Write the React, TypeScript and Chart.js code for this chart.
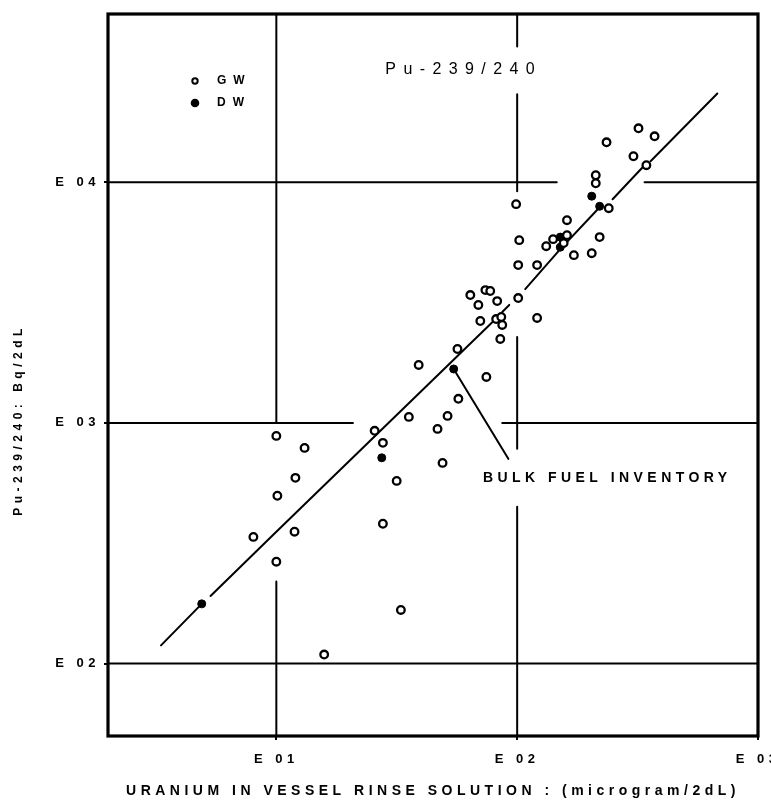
import React, { useEffect, useRef } from 'react';
import { Chart, registerables } from 'chart.js';

Chart.register(...registerables);

// ---- Data (x: microgram/2dL, y: Bq/2dL) ----
const gwX = [10, 13.1, 12.0, 10.1, 8.03, 11.9, 10, 15.8, 32.9, 25.6, 27.7, 31.6, 27.7, 35.5, 51.4, 46.7, 49.0, 57.0, 39.0, 56.5, 74.5, 63.9, 73.8, 77.3, 69.0, 82.6, 101, 70.3, 81.8, 85.9, 86.7, 85.1, 121, 101, 121, 102, 99, 161, 141, 161, 156, 132, 172, 204, 220, 212, 212, 240, 235, 319, 372, 304, 344];
const gwY = [883, 787, 591, 498, 336, 353, 265, 109, 167, 927, 826, 574, 381, 1059, 1069, 944, 682, 1259, 1741, 2028, 1552, 3398, 3562, 3532, 3090, 3206, 3302, 2651, 2701, 2754, 2552, 2232, 2729, 4525, 4525, 5745, 8106, 6953, 5799, 6026, 5585, 5422, 4977, 5070, 5914, 10690, 9900, 7798, 14650, 16750, 15520, 12820, 11770];

const dwX = [4.9, 27.4, 54.5, 151, 151, 204, 220];
const dwY = [177, 716, 1675, 5914, 5370, 8750, 7943];

// fitted line (null = break in the drawn line)
const fitX = [3.32, 4.9, null, 5.33, 10, 81.8, null, 86.7, 92.7, null, 108, 151, 220, null, 249, 332, null, 358, 678];
const fitY = [119, 177, null, 191, 353, 2716, null, 2891, 3091, null, 3597, 5272, 7874, null, 8497, 11540, null, 12230, 23370];

// leader line to the "bulk fuel inventory" point
const leaderX = [54.5, 91.9];
const leaderY = [1675, 709];

// broken grid lines of the original drawing
const vGrid10X = [10, 10, null, 10, 10];
const vGrid10Y = [50000, 1000, null, 219, 50];
const vGrid100X = [100, 100, null, 100, 100, null, 100, 100, null, 100, 100];
const vGrid100Y = [50000, 36600, null, 23200, 9180, null, 2275, 780, null, 448, 50];
const hGrid100X = [2, 1000];
const hGrid100Y = [100, 100];
const hGrid1000X = [2, 20.8, null, 86.7, 1000];
const hGrid1000Y = [1000, 1000, null, 1000, 1000];
const hGrid10000X = [2, 146, null, 338, 1000];
const hGrid10000Y = [10000, 10000, null, 10000, 10000];

const xTickValues = [10, 100, 1000];
const xTickLabels = ['E 01', 'E 02', 'E 03'];
const yTickValues = [100, 1000, 10000];
const yTickLabels = ['E 02', 'E 03', 'E 04'];

const seriesNames = ['GW', 'DW'];
const chartTitle = 'Pu-239/240';
const annotationText = 'BULK FUEL INVENTORY';
const xTitle = 'URANIUM IN VESSEL RINSE SOLUTION : (microgram/2dL)';
const yTitle = 'Pu-239/240: Bq/2dL';

const FAMILY = '"Liberation Sans", Arial, sans-serif';

const pts = (xs: (number | null)[], ys: (number | null)[]) =>
  xs.map((v, i) => (v === null || ys[i] === null ? { x: NaN, y: NaN } : { x: v as number, y: ys[i] as number }));

const lineDs = (xs: (number | null)[], ys: (number | null)[], width: number, order: number) => ({
  data: pts(xs, ys),
  showLine: true,
  spanGaps: false,
  pointRadius: 0,
  borderColor: '#000',
  backgroundColor: '#000',
  borderWidth: width,
  borderCapStyle: 'round',
  order,
});

const decorPlugin = {
  id: 'decor',
  beforeDraw(chart: any) {
    chart.ctx.letterSpacing = '4.5px';
  },
  afterDraw(chart: any) {
    const { ctx, chartArea: a, scales } = chart;
    const xs = scales.x;
    const ys = scales.y;
    ctx.save();
    // frame
    ctx.strokeStyle = '#000';
    ctx.lineWidth = 3.2;
    ctx.strokeRect(a.left, a.top, a.right - a.left, a.bottom - a.top);

    ctx.fillStyle = '#000';
    ctx.textBaseline = 'middle';

    // chart title inside plot
    ctx.font = `16px ${FAMILY}`;
    ctx.letterSpacing = '7.4px';
    ctx.textAlign = 'center';
    ctx.fillText(chartTitle, xs.getPixelForValue(57.9) + 3.7, ys.getPixelForValue(29500));

    // annotation
    ctx.font = `bold 14px ${FAMILY}`;
    ctx.letterSpacing = '4.45px';
    ctx.textAlign = 'left';
    ctx.fillText(annotationText, xs.getPixelForValue(72.1), ys.getPixelForValue(590));

    // legend
    const dsets = chart.data.datasets;
    ctx.font = `bold 12px ${FAMILY}`;
    ctx.letterSpacing = '7px';
    [0, 1].forEach((i) => {
      const cy = a.top + 67 + i * 22;
      const cx = a.left + 87;
      const d = dsets[i];
      ctx.beginPath();
      ctx.arc(cx, cy, i === 0 ? 2.7 : 3.3, 0, Math.PI * 2);
      ctx.fillStyle = d.pointBackgroundColor;
      ctx.fill();
      ctx.lineWidth = 2;
      ctx.strokeStyle = '#000';
      ctx.stroke();
      ctx.fillStyle = '#000';
      ctx.fillText(seriesNames[i], a.left + 109, cy);
    });

    // y-axis title
    ctx.font = `bold 12px ${FAMILY}`;
    ctx.letterSpacing = '4.5px';
    ctx.textAlign = 'center';
    ctx.translate(19, a.top + 408);
    ctx.rotate(-Math.PI / 2);
    ctx.fillText(yTitle, 2, 0);
    ctx.restore();
  },
};

export default function App() {
  const ref = useRef<HTMLCanvasElement | null>(null);

  useEffect(() => {
    if (!ref.current) return;
    const tickFont = { family: FAMILY, size: 13, weight: 'bold' as const };
    const chart = new Chart(ref.current, {
      type: 'scatter',
      data: {
        datasets: [
          {
            label: seriesNames[0],
            data: pts(gwX, gwY),
            pointStyle: 'circle',
            pointRadius: 3.8,
            pointBorderWidth: 2.3,
            pointBackgroundColor: '#fff',
            pointBorderColor: '#000',
            backgroundColor: '#fff',
            borderColor: '#000',
            order: 0,
          } as any,
          {
            label: seriesNames[1],
            data: pts(dwX, dwY),
            pointStyle: 'circle',
            pointRadius: 4,
            pointBorderWidth: 1,
            pointBackgroundColor: '#000',
            pointBorderColor: '#000',
            backgroundColor: '#000',
            borderColor: '#000',
            order: 0,
          } as any,
          lineDs(fitX, fitY, 2, 1) as any,
          lineDs(leaderX, leaderY, 2, 1) as any,
          lineDs(vGrid10X, vGrid10Y, 2, 2) as any,
          lineDs(vGrid100X, vGrid100Y, 2, 2) as any,
          lineDs(hGrid100X, hGrid100Y, 2, 2) as any,
          lineDs(hGrid1000X, hGrid1000Y, 2, 2) as any,
          lineDs(hGrid10000X, hGrid10000Y, 2, 2) as any,
        ],
      },
      options: {
        animation: false,
        responsive: true,
        maintainAspectRatio: false,
        events: [],
        layout: { padding: { top: 14, right: 13, left: 0, bottom: 0 } },
        plugins: {
          legend: { display: false },
          tooltip: { enabled: false },
          title: { display: false },
        },
        scales: {
          x: {
            type: 'logarithmic',
            min: 2,
            max: 1000,
            afterBuildTicks: (s: any) => {
              s.ticks = xTickValues.map((v) => ({ value: v }));
            },
            afterFit: (s: any) => {
              s.height = 65;
              s.paddingLeft = 0;
              s.paddingRight = 0;
            },
            ticks: {
              autoSkip: false,
              maxRotation: 0,
              padding: 12,
              color: '#000',
              font: tickFont,
              callback: (v: any) => xTickLabels[xTickValues.indexOf(Number(v))] ?? '',
            },
            grid: { display: true, drawOnChartArea: false, drawTicks: true, tickLength: 4, lineWidth: 2, color: '#000' },
            border: { display: false },
            title: {
              display: true,
              text: xTitle,
              color: '#000',
              font: { family: FAMILY, size: 14, weight: 'bold' },
              padding: { top: 0, bottom: 1 },
            },
          },
          y: {
            type: 'logarithmic',
            min: 50,
            max: 50000,
            afterBuildTicks: (s: any) => {
              s.ticks = yTickValues.map((v) => ({ value: v }));
            },
            afterFit: (s: any) => {
              s.width = 108;
              s.paddingTop = 0;
              s.paddingBottom = 0;
            },
            ticks: {
              autoSkip: false,
              padding: 4,
              color: '#000',
              font: tickFont,
              callback: (v: any) => yTickLabels[yTickValues.indexOf(Number(v))] ?? '',
            },
            grid: { display: true, drawOnChartArea: false, drawTicks: true, tickLength: 4, lineWidth: 2, color: '#000' },
            border: { display: false },
          },
        },
      } as any,
      plugins: [decorPlugin],
    });
    return () => chart.destroy();
  }, []);

  return (
    <div style={{ position: 'fixed', left: 0, top: 0, width: 771, height: 801, background: '#fff' }}>
      <canvas ref={ref} />
    </div>
  );
}
